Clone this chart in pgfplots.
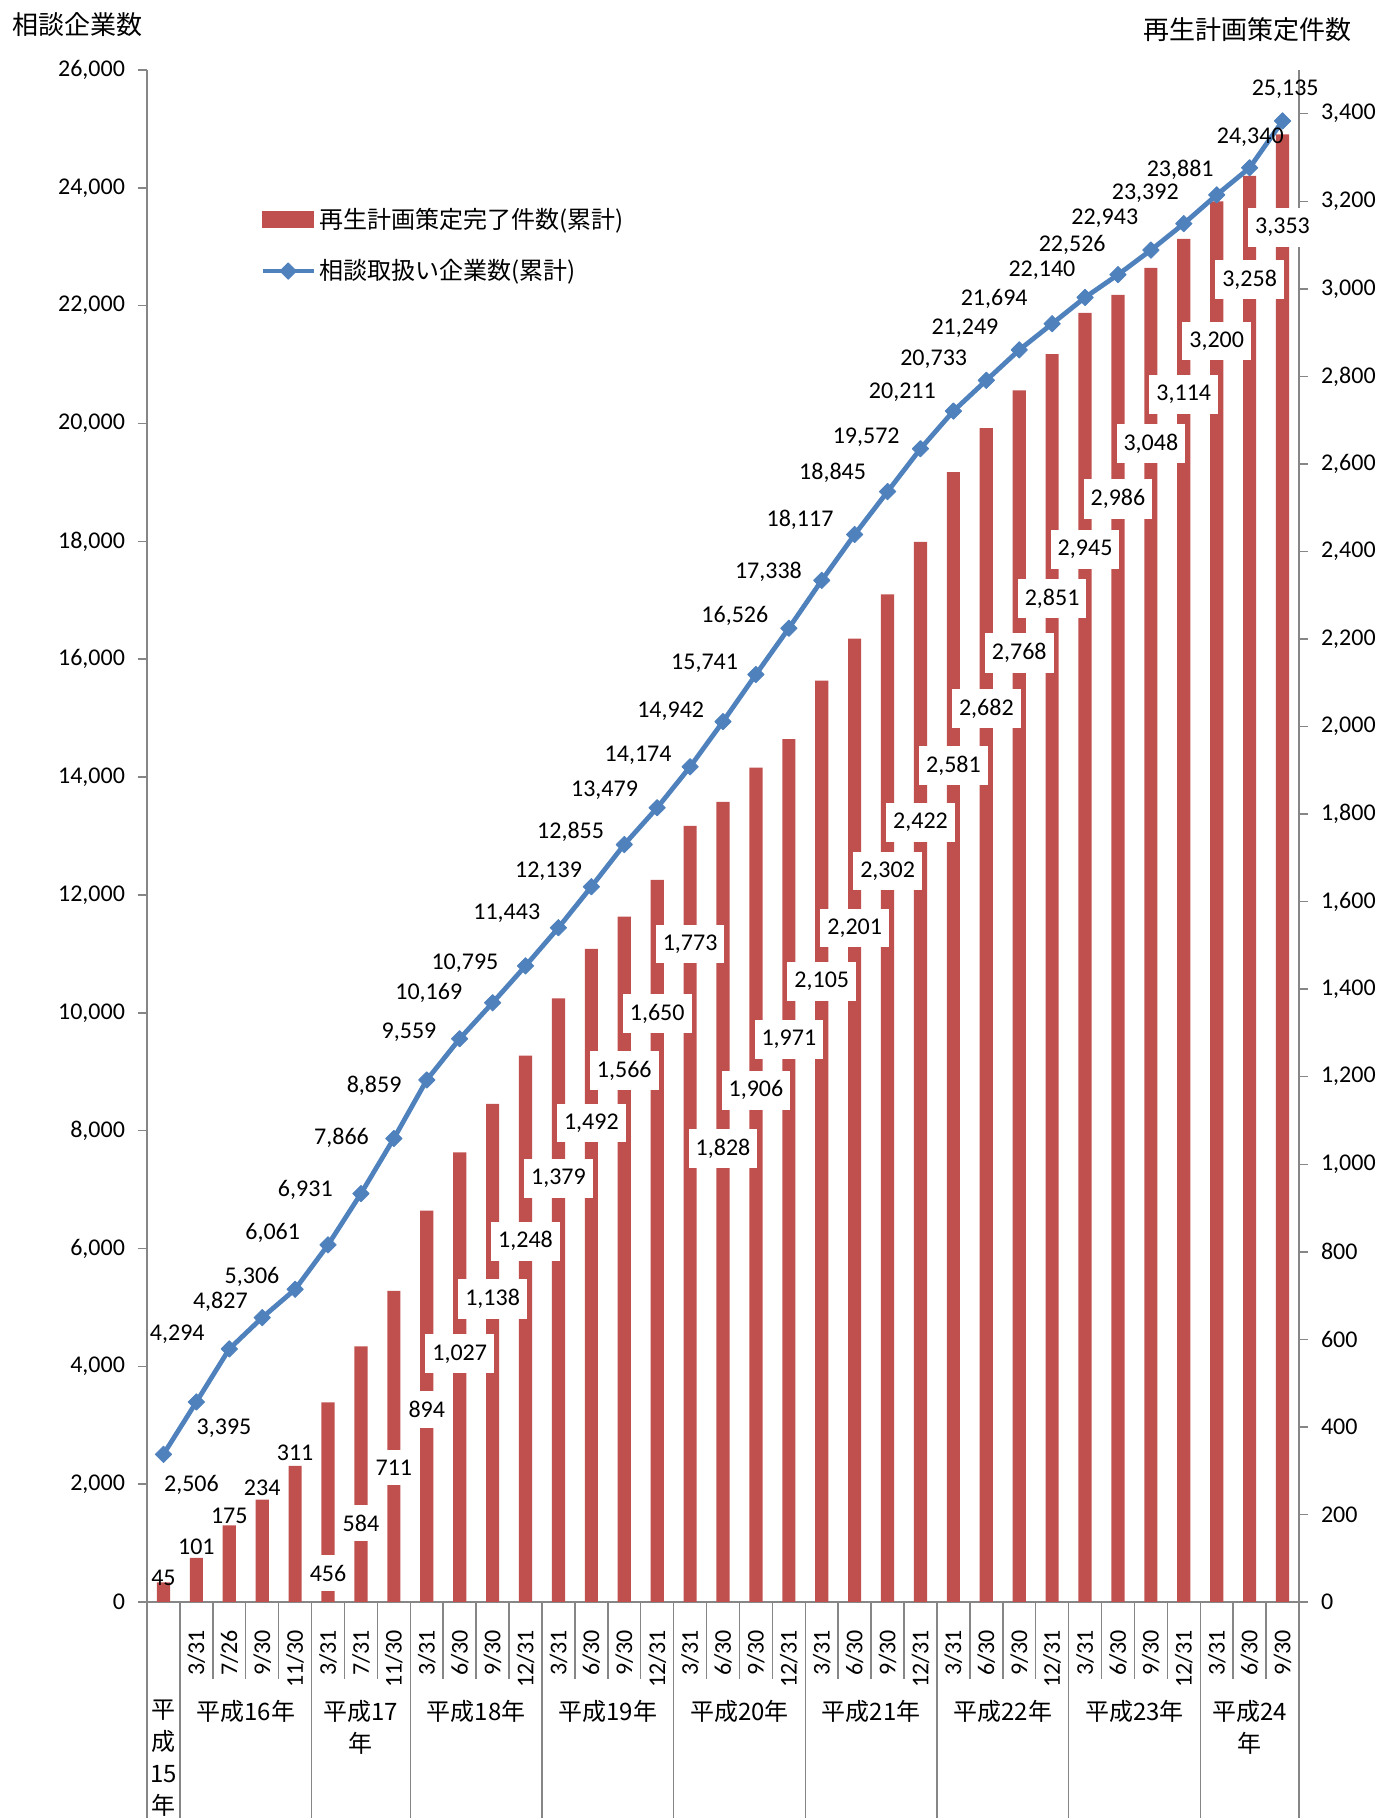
\documentclass[border=0pt]{standalone}
\usepackage{fontspec}
\setmainfont{Carlito}
\newfontfamily\jp{Noto Sans CJK JP}
\usepackage{pgfplots}
\usepackage{pgfplotstable}
\pgfplotsset{compat=1.18}
\definecolor{barred}{HTML}{C0504D}
\definecolor{lineblue}{HTML}{4F81BD}
\definecolor{axgray}{HTML}{868686}
\newcommand\lf{\fontsize{12}{14}\selectfont}
\newcommand\jpf{\jp\fontsize{12}{15.85}\selectfont}

\pgfplotstableread{
x v
0 45
1 101
2 175
3 234
4 311
5 456
6 584
7 711
8 894
9 1027
10 1138
11 1248
12 1379
13 1492
14 1566
15 1650
16 1773
17 1828
18 1906
19 1971
20 2105
21 2201
22 2302
23 2422
24 2581
25 2682
26 2768
27 2851
28 2945
29 2986
30 3048
31 3114
32 3200
33 3258
34 3353
}\bardata

\pgfplotstableread{
x v ly
0 45 56
1 101 127
2 175 196
3 234 260
4 311 342
}\barlabA

\pgfplotstableread{
x v ly
5 456 66
6 584 180
7 711 307
8 894 440
9 1027 567
10 1138 692
11 1248 824
12 1379 967
13 1492 1094
14 1566 1214
15 1650 1344
16 1773 1503
17 1828 1036
18 1906 1169
19 1971 1285
20 2105 1418
21 2201 1540
22 2302 1670
23 2422 1781
24 2581 1911
25 2682 2041
26 2768 2168
27 2851 2292
28 2945 2404
29 2986 2520
30 3048 2647
31 3114 2759
32 3200 2881
33 3258 3021
34 3353 3140
}\barlabB

\pgfplotstableread{
x y lx ly
0 2506 0.85 1988
1 3395 1.84 2953
2 4294 0.42 4548
3 4827 1.73 5099
4 5306 2.69 5512
5 6061 3.32 6260
6 6931 4.31 6989
7 7866 5.41 7875
8 8859 6.40 8761
9 9559 7.46 9666
10 10169 8.06 10336
11 10795 9.16 10848
12 11443 10.43 11694
13 12139 11.70 12403
14 12855 12.37 13072
15 13479 13.40 13781
16 14174 14.42 14372
17 14942 15.41 15120
18 15741 16.44 15927
19 16526 17.36 16734
20 17338 18.38 17482
21 18117 19.34 18368
22 18845 20.33 19155
23 19572 21.35 19766
24 20211 22.45 20534
25 20733 23.40 21085
26 21249 24.35 21616
27 21694 25.24 22109
28 22140 26.69 22601
29 22526 27.61 23034
30 22943 28.60 23487
31 23392 29.83 23900
32 23881 30.89 24313
33 24340 33.02 24865
34 25135 34.08 25672
}\linedata

\pgfplotsset{
  common/.style={
    scale only axis, width=576pt, height=766pt,
    at={(0,0)}, anchor=south west,
    xmin=-0.5, xmax=34.5, clip=false,
    scaled ticks=false,
    /pgf/number format/1000 sep={,},
    /pgf/number format/assume math mode=true,
    tick align=outside,
    tick style={draw=axgray, line width=0.75pt},
    axis line style={draw=axgray, line width=0.75pt, -},
  },
  linelegend/.style={legend image code/.code={\draw[mark repeat=2,mark phase=2,##1] plot coordinates {(0pt,0pt) (12.75pt,0pt) (25.5pt,0pt)};}},
  barlegend/.style={legend image code/.code={\fill[barred] (0pt,-4pt) rectangle (25.5pt,4pt);}},
}

\begin{document}
\begin{tikzpicture}
\path[use as bounding box] (-73.5pt,-108pt) rectangle (616.5pt,801pt);

% axis 1: category axis decorations
\begin{axis}[common, ymin=0, ymax=1,
  axis y line=none, axis x line*=bottom, ytick=\empty,
  xtick={-0.5,0.5,...,34.5},
  xticklabels={{},3/31,7/26,9/30,11/30,3/31,7/31,11/30,3/31,6/30,9/30,12/31,3/31,6/30,9/30,12/31,3/31,6/30,9/30,12/31,3/31,6/30,9/30,12/31,3/31,6/30,9/30,12/31,3/31,6/30,9/30,12/31,3/31,6/30,9/30,{}},
  xticklabel style={font=\lf, xshift=8.23pt, yshift=28pt, rotate=90, anchor=east},
  major tick length=38.5pt, minor tick length=110pt,
  minor xtick={-0.5,0.5,4.5,7.5,11.5,15.5,19.5,23.5,27.5,31.5,34.5},
]
\node[font=\jpf, anchor=north, align=center, inner sep=0pt, yshift=-49pt] at (axis cs:0,0) {平\\成\\15\\年};
\node[font=\jpf, anchor=north, align=center, inner sep=0pt, yshift=-49pt] at (axis cs:2.5,0) {平成16年};
\node[font=\jpf, anchor=north, align=center, inner sep=0pt, yshift=-49pt] at (axis cs:6,0) {平成17\\年};
\node[font=\jpf, anchor=north, align=center, inner sep=0pt, yshift=-49pt] at (axis cs:9.5,0) {平成18年};
\node[font=\jpf, anchor=north, align=center, inner sep=0pt, yshift=-49pt] at (axis cs:13.5,0) {平成19年};
\node[font=\jpf, anchor=north, align=center, inner sep=0pt, yshift=-49pt] at (axis cs:17.5,0) {平成20年};
\node[font=\jpf, anchor=north, align=center, inner sep=0pt, yshift=-49pt] at (axis cs:21.5,0) {平成21年};
\node[font=\jpf, anchor=north, align=center, inner sep=0pt, yshift=-49pt] at (axis cs:25.5,0) {平成22年};
\node[font=\jpf, anchor=north, align=center, inner sep=0pt, yshift=-49pt] at (axis cs:29.5,0) {平成23年};
\node[font=\jpf, anchor=north, align=center, inner sep=0pt, yshift=-49pt] at (axis cs:33,0) {平成24\\年};
\end{axis}

% axis 2: bars on right axis
\begin{axis}[common, ymin=0, ymax=3500,
  axis x line=none, axis y line*=right, xtick=\empty,
  ytick={0,200,...,3400},
  yticklabel style={font=\lf, xshift=3pt},
  major tick length=4.5pt,
]
\addplot[ybar, bar width=0.4, fill=barred, draw=none] table[x=x, y=v] \bardata;
\addplot[draw=none, forget plot, nodes near coords, point meta=explicit,
  nodes near coords style={anchor=center, font=\lf, text=black, inner sep=1pt}]
  table[x=x, y=ly, meta=v] \barlabA;
\addplot[draw=none, forget plot, nodes near coords, point meta=explicit,
  nodes near coords style={anchor=center, font=\lf, text=black, fill=white, inner xsep=3.5pt, inner ysep=5pt}]
  table[x=x, y=ly, meta=v] \barlabB;
\end{axis}

% axis 3: line on left axis
\begin{axis}[common, ymin=0, ymax=26000,
  axis x line=none, axis y line*=left, xtick=\empty,
  ytick={0,2000,...,26000},
  yticklabel style={font=\lf, xshift=-3pt},
  major tick length=4.5pt,
  legend cell align=left,
  legend style={at={(axis description cs:0.098,0.912)}, anchor=north west,
    draw=none, fill=none, inner sep=0pt, row sep=11pt, font=\jpf,
    nodes={inner sep=1.5pt}},
]
\addlegendimage{barlegend}
\addlegendentry{再生計画策定完了件数(累計)}
\addplot[lineblue, line width=2.4pt, line join=round, mark=square*, mark size=2.9pt,
  mark options={rotate=45, fill=lineblue, draw=lineblue, line width=0.4pt, solid},
  linelegend]
  table[x=x, y=y] \linedata;
\addlegendentry{相談取扱い企業数(累計)}
\addplot[draw=none, forget plot, nodes near coords, point meta=explicit,
  nodes near coords style={anchor=center, font=\lf, text=black, inner sep=1pt}]
  table[x=lx, y=ly, meta=y] \linedata;
\node[font=\jp\fontsize{13}{15}\selectfont, anchor=west, xshift=-71pt, yshift=22.5pt] at (rel axis cs:0,1) {相談企業数};
\node[font=\jp\fontsize{13}{15}\selectfont, anchor=center, xshift=-26pt, yshift=20pt] at (rel axis cs:1,1) {再生計画策定件数};
\end{axis}
\end{tikzpicture}
\end{document}
